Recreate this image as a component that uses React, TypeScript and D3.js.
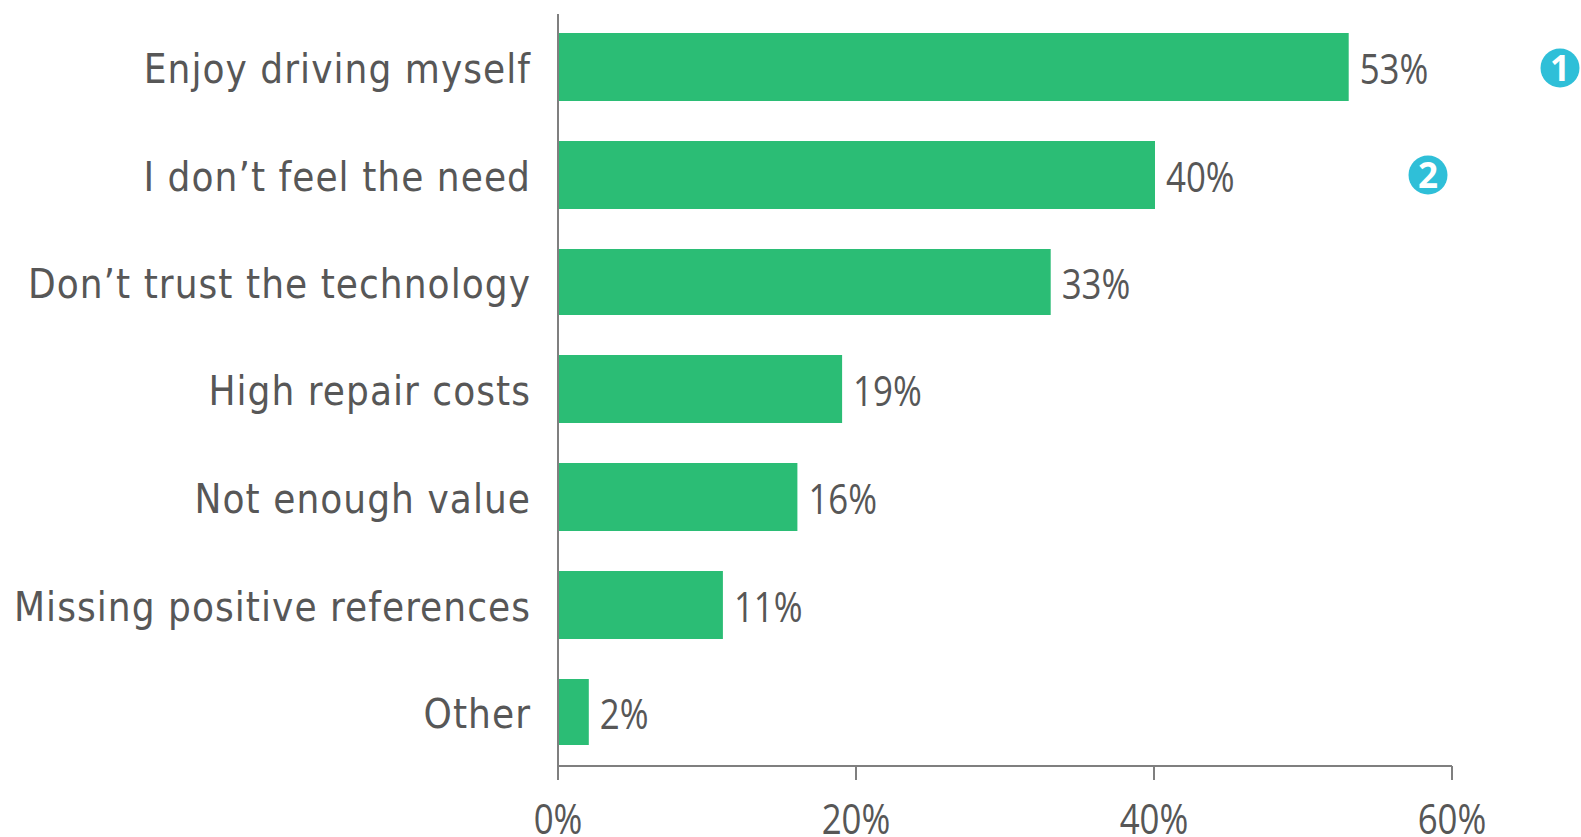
import React from 'react';
import * as d3 from 'd3';

const categories = ['Enjoy driving myself', 'I don’t feel the need', 'Don’t trust the technology', 'High repair costs', 'Not enough value', 'Missing positive references', 'Other'];
const shares = [53, 40, 33, 19, 16, 11, 2];
const axisTicks = [0, 20, 40, 60];
const bands: [number, number][] = [[33, 101], [141, 209], [249, 315], [355, 423], [463, 531], [571, 639], [679, 745]];
const badges = [{ label: '1', x: 1560, y: 68 }, { label: '2', x: 1428, y: 175 }];

const labelFont = '"DejaVu Sans Condensed", "DejaVu Sans", sans-serif';
const numberFont = '"Open Sans", sans-serif';
const ink = '#575757';
const green = '#2bbd75';
const axisColor = '#7f7f7f';
const numberSize = 42;
const numberSqueeze = 0.83;

// Percent figures use a narrowed face, so each one is squeezed about its own origin.
function Figure({ x, y, anchor, text }: { x: number; y: number; anchor: 'start' | 'middle'; text: string }) {
  return (
    <text
      transform={`translate(${x},${y}) scale(${numberSqueeze},1)`}
      textAnchor={anchor}
      fontFamily={numberFont}
      fontSize={numberSize}
      fill={ink}
    >
      {text}
    </text>
  );
}

export default function App() {
  const x = d3.scaleLinear().domain([0, 60]).range([558, 1452]);
  return (
    <svg width={1581} height={837} style={{ position: 'absolute', left: 0, top: 0 }}>
      {categories.map((c, i) => {
        const mid = (bands[i][0] + bands[i][1]) / 2;
        return (
          <g key={c}>
            <rect x={x(0)} y={bands[i][0]} width={x(shares[i]) - x(0) + 1} height={bands[i][1] - bands[i][0]} fill={green} />
            <text x={531} y={mid + 16} textAnchor="end" fontFamily={labelFont} fontSize={40} letterSpacing={1.05} fill={ink}>{c}</text>
            <Figure x={x(shares[i]) + 12} y={mid + 17} anchor="start" text={`${shares[i]}%`} />
          </g>
        );
      })}
      <line x1={558} x2={558} y1={14} y2={780} stroke={axisColor} strokeWidth={2} />
      <line x1={558} x2={1452} y1={766} y2={766} stroke={axisColor} strokeWidth={2} />
      {axisTicks.map(t => (
        <g key={t}>
          <line x1={x(t)} x2={x(t)} y1={766} y2={780} stroke={axisColor} strokeWidth={2} />
          <Figure x={x(t)} y={834} anchor="middle" text={`${t}%`} />
        </g>
      ))}
      {badges.map(b => (
        <g key={b.label}>
          <circle cx={b.x} cy={b.y} r={19.5} fill="#2fbfd8" />
          <text x={b.x} y={b.y + 12.5} textAnchor="middle" fontFamily={numberFont} fontSize={35} fontWeight={700} fill="#fff">{b.label}</text>
        </g>
      ))}
    </svg>
  );
}
